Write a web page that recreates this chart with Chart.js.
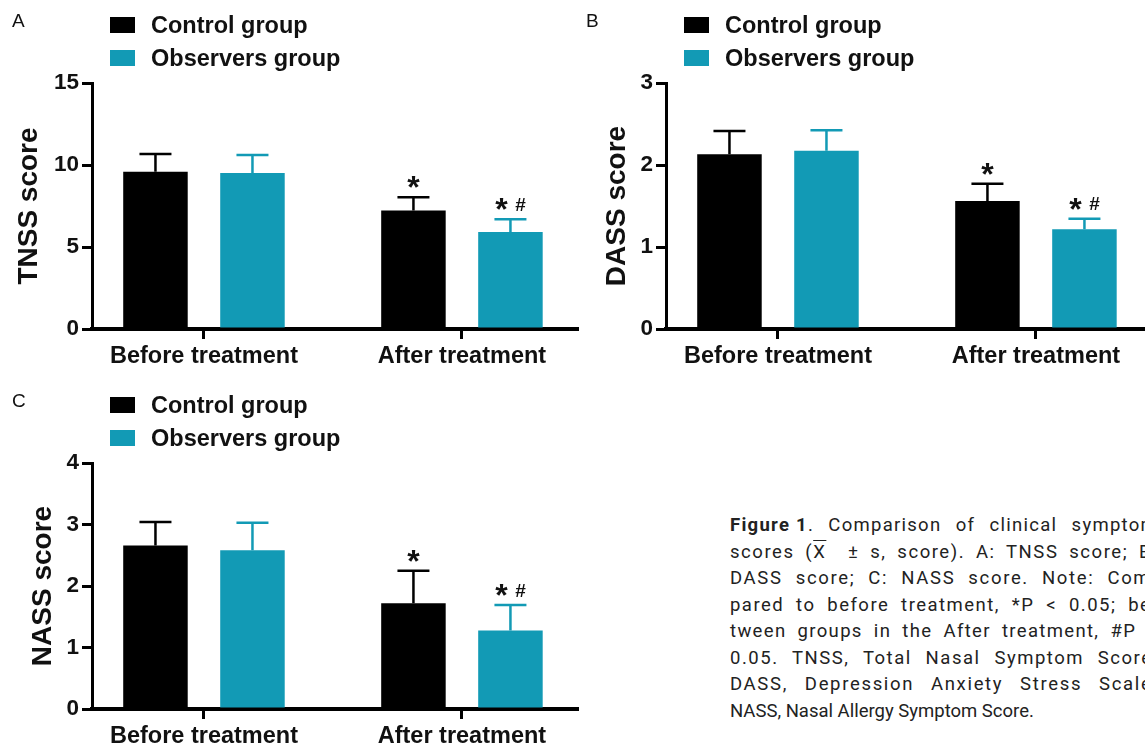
<!DOCTYPE html>
<html>
<head>
<meta charset="utf-8">
<script src="https://cdn.jsdelivr.net/npm/chart.js@4.4.1/dist/chart.umd.min.js"></script>
<style>
    body { margin: 0; width: 1145px; height: 749px; overflow: hidden; background: #fff; position: relative;
           font-family: "Liberation Sans", Arial, sans-serif; }
    .panel { position: absolute; width: 590px; height: 380px; }
    .panel canvas { position: absolute; left: 0; top: 0; }
    .tag { position: absolute; left: 12px; top: 11px; font-size: 19px; line-height: 19px; color: #111; }
    .leg { position: absolute; left: 110px; height: 23px; font-weight: bold; font-size: 23.5px; line-height: 23px; color: #111; white-space: nowrap; }
    .leg i { position: absolute; left: 0; top: 3px; width: 25px; height: 16px; }
    .leg span { position: absolute; left: 41px; top: 0; }
    .caption { position: absolute; left: 730px; top: 512px; width: 428px; font-family: Roboto, "Liberation Sans", sans-serif;
               font-size: 18.5px; line-height: 26.5px; color: #222; }
    .caption div { text-align: justify; text-align-last: justify; white-space: nowrap; }
    .caption div.last { text-align: left; text-align-last: left; }
    .ov { text-decoration: overline; }
    .fig { display: inline-block; }
</style>
</head>
<body>
<div class="panel" id="panelA" style="left:0;top:0"><canvas id="chartA" width="590" height="380"></canvas></div>
<div class="panel" id="panelB" style="left:574px;top:0"><canvas id="chartB" width="590" height="380"></canvas></div>
<div class="panel" id="panelC" style="left:0;top:380px"><canvas id="chartC" width="590" height="380"></canvas></div>

<div class="caption" id="caption">
    <div><span class="fig"><b>Figure 1</b>.</span> Comparison of clinical symptom</div>
    <div>scores (<span class="ov">X</span>&nbsp; ± s, score). A: TNSS score; B:</div>
    <div>DASS score; C: NASS score. Note: Com-</div>
    <div>pared to before treatment, *P &lt; 0.05; be-</div>
    <div>tween groups in the After treatment, #P &lt;</div>
    <div>0.05. TNSS, Total Nasal Symptom Score;</div>
    <div>DASS, Depression Anxiety Stress Scale;</div>
    <div class="last">NASS, Nasal Allergy Symptom Score.</div>
</div>

<script>
const categories = ["Before treatment", "After treatment"];
const seriesNames = ["Control group", "Observers group"];
const seriesColors = ["#000000", "#129ab5"];

// mean and SD per panel
const tnssControl = [9.59, 7.23];
const tnssControlSd = [1.08, 0.80];
const tnssObserver = [9.51, 5.91];
const tnssObserverSd = [1.10, 0.78];
const tnssTicks = [0, 5, 10, 15];

const dassControl = [2.13, 1.56];
const dassControlSd = [0.285, 0.21];
const dassObserver = [2.175, 1.215];
const dassObserverSd = [0.25, 0.13];
const dassTicks = [0, 1, 2, 3];

const nassControl = [2.66, 1.72];
const nassControlSd = [0.38, 0.53];
const nassObserver = [2.58, 1.275];
const nassObserverSd = [0.45, 0.415];
const nassTicks = [0, 1, 2, 3, 4];

const marksControl = ["", "*"];
const marksObserver = ["", "* #"];

Chart.defaults.font.family = '"Liberation Sans", Arial, sans-serif';

// justified caption lines: spread part of the slack into letter spacing
document.querySelectorAll("#caption div:not(.last)").forEach(line => {
    line.style.textAlign = "left";
    line.style.textAlignLast = "left";
    const r = document.createRange();
    r.selectNodeContents(line);
    const natural = r.getBoundingClientRect().width;
    line.style.textAlign = "";
    line.style.textAlignLast = "";
    const slack = 428 - natural;
    const chars = line.textContent.trim().length;
    if (slack > 0) line.style.letterSpacing = (slack * 0.6 / chars) + "px";
});

const errorBars = {
    id: "errorBars",
    afterDatasetsDraw(chart) {
        const ctx = chart.ctx;
        const y = chart.scales.y;
        chart.data.datasets.forEach((ds, di) => {
            const meta = chart.getDatasetMeta(di);
            meta.data.forEach((bar, i) => {
                const top = y.getPixelForValue(ds.data[i].y + ds.sd[i]);
                ctx.save();
                ctx.strokeStyle = ds.backgroundColor;
                ctx.lineWidth = 2.5;
                ctx.beginPath();
                ctx.moveTo(bar.x, bar.y);
                ctx.lineTo(bar.x, top);
                ctx.moveTo(bar.x - 16, top);
                ctx.lineTo(bar.x + 16, top);
                ctx.stroke();

                const mark = ds.marks[i];
                if (mark) {
                    const parts = mark.split(" ");
                    const shifts = parts.length > 1 ? [-9, 10] : [0];
                    ctx.fillStyle = "#111";
                    ctx.textAlign = "center";
                    ctx.textBaseline = "alphabetic";
                    parts.forEach((p, k) => {
                        ctx.font = p === "*" ? "bold 32px 'Liberation Sans', Arial" : "bold 19px 'Liberation Sans', Arial";
                        const m = ctx.measureText(p);
                        const yc = top - 15;
                        const base = yc + (m.actualBoundingBoxAscent - m.actualBoundingBoxDescent) / 2;
                        ctx.fillText(p, bar.x + shifts[k], base);
                    });
                }
                ctx.restore();
            });
        });
    }
};

function addLegend(panel, letter) {
    const el = document.getElementById(panel);
    const tag = document.createElement("div");
    tag.className = "tag";
    tag.textContent = letter;
    el.appendChild(tag);
    seriesNames.forEach((name, i) => {
        const row = document.createElement("div");
        row.className = "leg";
        row.style.top = (13.8 + i * 33) + "px";
        row.innerHTML = `<i style="background:${seriesColors[i]}"></i><span>${name}</span>`;
        el.appendChild(row);
    });
}

function makeChart(canvasId, title, titlePad, yTicks, control, controlSd, observer, observerSd) {
    const axisGrid = {
        display: true, drawOnChartArea: false, drawTicks: true,
        tickLength: 10, lineWidth: 3, color: "#000", offset: false
    };
    return new Chart(document.getElementById(canvasId), {
        type: "bar",
        data: {
            datasets: [
                {
                    label: seriesNames[0],
                    data: control.map((v, i) => ({ x: i, y: v })),
                    backgroundColor: seriesColors[0],
                    sd: controlSd,
                    marks: marksControl
                },
                {
                    label: seriesNames[1],
                    data: observer.map((v, i) => ({ x: i, y: v })),
                    backgroundColor: seriesColors[1],
                    sd: observerSd,
                    marks: marksObserver
                }
            ]
        },
        options: {
            responsive: false,
            animation: false,
            categoryPercentage: 0.752,
            barPercentage: 0.665,
            layout: { padding: { top: 83, right: 13, left: 0, bottom: 0 } },
            plugins: { legend: { display: false }, tooltip: { enabled: false } },
            scales: {
                x: {
                    type: "linear",
                    min: -0.434,
                    max: 1.446,
                    offset: false,
                    afterBuildTicks: s => { s.ticks = categories.map((c, i) => ({ value: i })); },
                    afterFit: s => { s.height = 51; },
                    grid: axisGrid,
                    border: { display: true, width: 4, color: "#000" },
                    ticks: {
                        callback: v => categories[v] ?? "",
                        font: { size: 23.5, weight: "bold" },
                        color: "#111",
                        padding: 3,
                        maxRotation: 0,
                        autoSkip: false
                    }
                },
                y: {
                    min: yTicks[0],
                    max: yTicks[yTicks.length - 1],
                    afterBuildTicks: s => { s.ticks = yTicks.map(v => ({ value: v })); },
                    afterFit: s => { s.width = 92; },
                    grid: axisGrid,
                    border: { display: true, width: 3, color: "#000" },
                    title: {
                        display: true,
                        text: title,
                        font: { size: 28, weight: "bold" },
                        color: "#111",
                        padding: { top: titlePad, bottom: 0 }
                    },
                    ticks: {
                        font: { size: 22.5, weight: "bold" },
                        color: "#111",
                        padding: 3
                    }
                }
            }
        },
        plugins: [errorBars]
    });
}

addLegend("panelA", "A");
addLegend("panelB", "B");
addLegend("panelC", "C");

makeChart("chartA", "TNSS score", 12, tnssTicks, tnssControl, tnssControlSd, tnssObserver, tnssObserverSd);
makeChart("chartB", "DASS score", 26, dassTicks, dassControl, dassControlSd, dassObserver, dassObserverSd);
makeChart("chartC", "NASS score", 26, nassTicks, nassControl, nassControlSd, nassObserver, nassObserverSd);
</script>
</body>
</html>
